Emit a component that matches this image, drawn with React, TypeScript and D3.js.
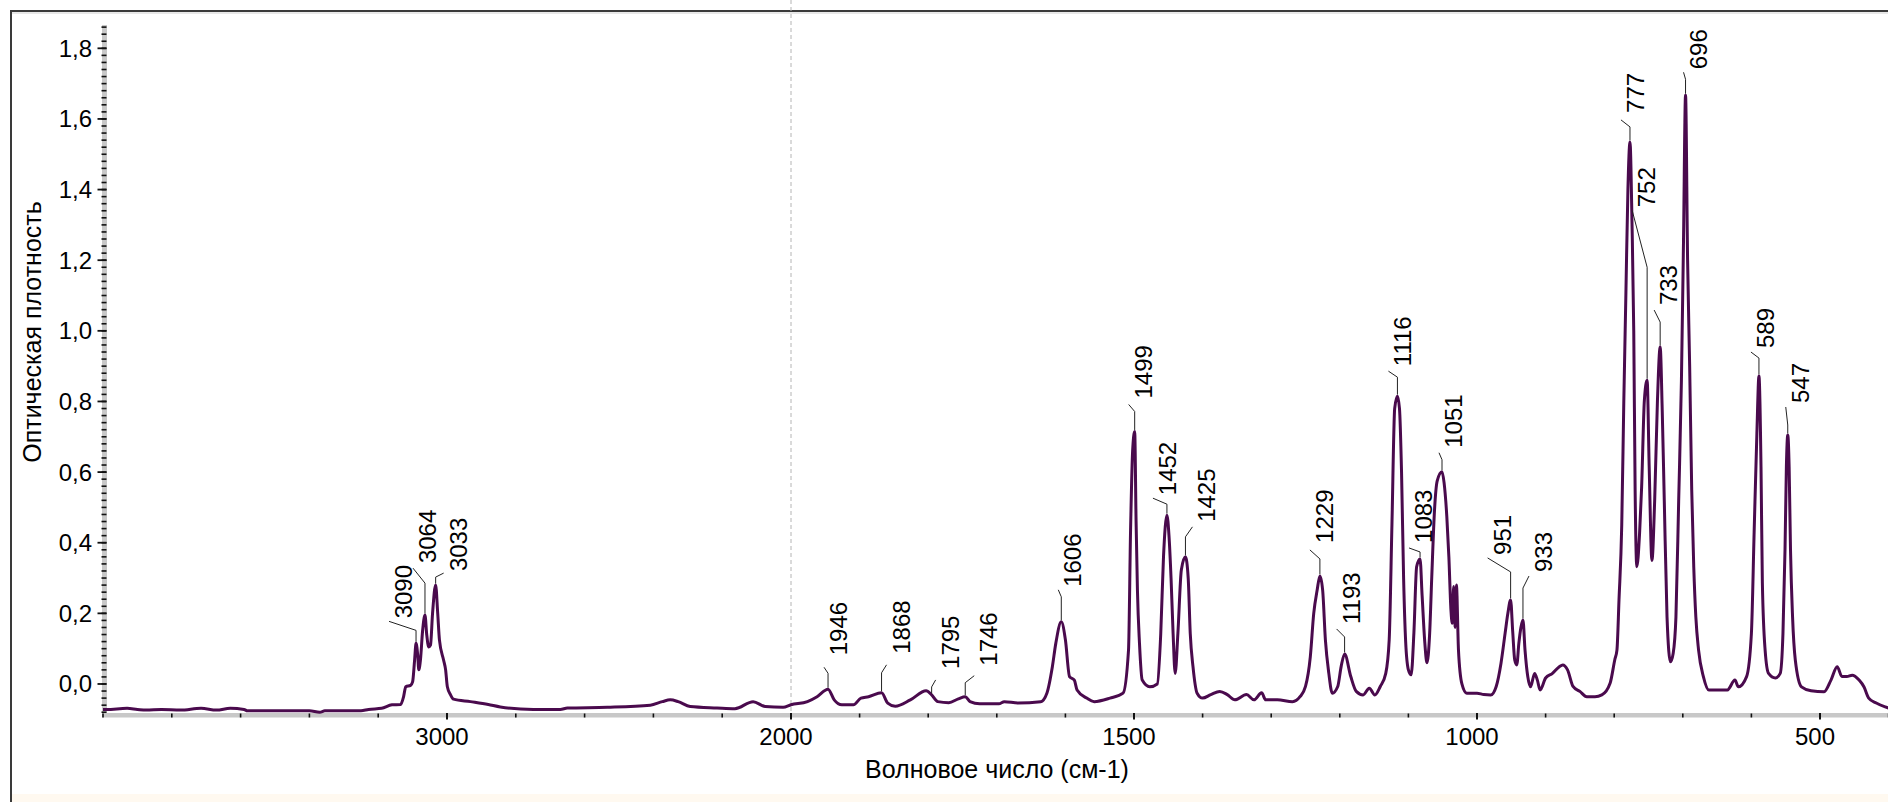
import React from 'react';
import * as d3 from 'd3';

// ---- data ----
const spectrumWn = [
  4000, 3990, 3930, 3900, 3875, 3830, 3775, 3715, 3670, 3630, 3590, 3580, 3460, 3400, 3370, 3355, 3250, 3228, 3190, 3160,
  3135, 3126, 3120, 3106, 3100, 3094, 3090, 3085, 3082, 3077, 3071, 3064, 3059, 3053, 3048, 3042, 3033, 3027, 3022, 3010,
  3004, 2999, 2990, 2981, 2932, 2880, 2845, 2749, 2671, 2650, 2534, 2409, 2374, 2351, 2328, 2293, 2215, 2163, 2110, 2075,
  2023, 2000, 1976, 1962, 1946, 1937, 1926, 1909, 1898, 1887, 1868, 1859, 1848, 1826, 1803, 1795, 1786, 1770, 1756, 1746,
  1739, 1725, 1697, 1689, 1669, 1636, 1627, 1619, 1614, 1606, 1600, 1594, 1587, 1583, 1569, 1558, 1535, 1516, 1508, 1505,
  1502, 1499, 1497, 1495, 1492, 1488, 1477, 1466, 1461, 1457, 1452, 1449, 1446, 1443, 1440, 1436, 1431, 1425, 1421, 1418,
  1414, 1408, 1400, 1388, 1375, 1364, 1353, 1336, 1325, 1314, 1308, 1291, 1269, 1258, 1250, 1243, 1238, 1233, 1229, 1225,
  1221, 1216, 1211, 1203, 1198, 1193, 1184, 1176, 1166, 1157, 1149, 1141, 1133, 1128, 1124, 1120, 1116, 1113, 1110, 1107,
  1104, 1100, 1096, 1092, 1088, 1083, 1080, 1076, 1073, 1069, 1066, 1062, 1058, 1051, 1048, 1044, 1041, 1038, 1036, 1034,
  1032, 1030, 1027, 1022, 1015, 1000, 990, 980, 972, 965, 959, 955, 951, 948, 945, 942, 939, 936, 933, 930,
  926, 922, 916, 912, 908, 900, 890, 880, 875, 868, 860, 850, 840, 828, 818, 806, 799, 796, 793, 789,
  786, 783, 780, 777, 774, 771.5, 769.5, 767, 763, 760, 756, 752, 749, 745, 741, 737, 733, 730, 727, 723,
  718, 714, 710, 706, 702, 699, 696, 693, 690, 687, 684, 681, 677, 670, 662, 650, 635, 624, 619, 607,
  600, 596, 592, 589, 586, 584, 580, 575, 565, 558, 554, 551, 549, 547, 545, 543, 540, 536, 527, 513,
  494, 484, 475, 468, 461, 453, 443, 436, 429, 418, 405, 400,
];
const spectrumAbs = [
  -0.072, -0.072, -0.069, -0.072, -0.074, -0.072, -0.074, -0.069, -0.074, -0.069, -0.072, -0.076, -0.076, -0.076, -0.08, -0.076, -0.076, -0.072, -0.069, -0.059,
  -0.058, -0.035, -0.008, -0.004, 0.006, 0.07, 0.115, 0.08, 0.04, 0.07, 0.15, 0.195, 0.14, 0.105, 0.11, 0.2, 0.28, 0.2, 0.125, 0.068,
  0.04, -0.008, -0.03, -0.043, -0.05, -0.058, -0.065, -0.072, -0.072, -0.068, -0.066, -0.06, -0.05, -0.045, -0.05, -0.064, -0.068, -0.07, -0.05, -0.064,
  -0.066, -0.059, -0.05, -0.036, -0.015, -0.045, -0.059, -0.059, -0.04, -0.036, -0.025, -0.054, -0.063, -0.045, -0.019, -0.031, -0.05, -0.053, -0.042, -0.036,
  -0.05, -0.056, -0.056, -0.05, -0.054, -0.05, -0.026, 0.049, 0.115, 0.176, 0.125, 0.021, 0.011, -0.017, -0.04, -0.05, -0.04, -0.026, 0.096, 0.436,
  0.66, 0.715, 0.464, 0.266, 0.115, 0.011, -0.008, 0.0, 0.143, 0.36, 0.478, 0.42, 0.3, 0.143, 0.03, 0.144, 0.323, 0.36, 0.3, 0.143,
  0.049, -0.026, -0.04, -0.03, -0.021, -0.03, -0.045, -0.03, -0.045, -0.025, -0.045, -0.045, -0.05, -0.036, -0.007, 0.077, 0.2, 0.266, 0.306, 0.266,
  0.125, 0.03, -0.026, -0.007, 0.05, 0.085, 0.021, -0.021, -0.031, -0.012, -0.031, -0.007, 0.03, 0.125, 0.45, 0.78, 0.815, 0.78, 0.6, 0.3,
  0.12, 0.04, 0.026, 0.144, 0.332, 0.354, 0.25, 0.115, 0.06, 0.144, 0.3, 0.49, 0.575, 0.601, 0.57, 0.474, 0.36, 0.21, 0.172, 0.276,
  0.16, 0.28, 0.096, 0.0, -0.026, -0.026, -0.03, -0.031, -0.007, 0.059, 0.144, 0.2, 0.238, 0.15, 0.068, 0.054, 0.115, 0.16, 0.181, 0.096,
  0.021, -0.008, 0.03, 0.011, -0.017, 0.017, 0.03, 0.049, 0.054, 0.04, -0.007, -0.021, -0.036, -0.036, -0.031, 0.002, 0.07, 0.096, 0.238, 0.45,
  0.8, 1.1, 1.4, 1.535, 1.3, 1.0, 0.55, 0.332, 0.427, 0.558, 0.804, 0.86, 0.615, 0.35, 0.52, 0.8, 0.954, 0.776, 0.52, 0.19,
  0.063, 0.087, 0.19, 0.52, 0.86, 1.25, 1.667, 1.2, 0.9, 0.55, 0.33, 0.19, 0.096, 0.021, -0.017, -0.017, -0.017, 0.011, -0.008, 0.021,
  0.143, 0.43, 0.71, 0.872, 0.615, 0.285, 0.096, 0.03, 0.017, 0.03, 0.143, 0.38, 0.615, 0.705, 0.615, 0.38, 0.19, 0.068, -0.008, -0.019,
  -0.022, 0.011, 0.049, 0.021, 0.021, 0.025, 0.011, -0.008, -0.04, -0.054, -0.065, -0.068,
];
const peakLabels = [3090, 3064, 3033, 1946, 1868, 1795, 1746, 1606, 1499, 1452, 1425, 1229, 1193, 1116, 1083, 1051, 951, 933, 777, 752, 733, 696, 589, 547];
const yTickValues = [0, 0.2, 0.4, 0.6, 0.8, 1.0, 1.2, 1.4, 1.6, 1.8];
const xTickLabelValues = [3000, 2000, 1500, 1000, 500];
const xMinorTicks = [4000, 3800, 3600, 3400, 3200, 3000, 2800, 2600, 2400, 2200, 2000, 1900, 1800, 1700, 1600, 1500, 1400, 1300, 1200, 1100, 1000, 900, 800, 700, 600, 500, 400];
const xTitle = 'Волновое число (см-1)';
const yTitle = 'Оптическая плотность';

// leader layout per label (px): [vertical rise, diagonal dx, diagonal dy, gap to text]
const leaderLayout: Record<number, number[]> = {
  3090: [13, -27, 9, 3], 3064: [32, -12, 15, 5], 3033: [8, 8, 4, 2],
  1946: [16, -4, 6, 12], 1868: [20, 5, 8, 11], 1795: [8, 4, 7, 11], 1746: [14, 9, 7, 10],
  1606: [25, -3, 7, 3], 1499: [20, -6, 7, 6], 1452: [11, -14, 6, 3], 1425: [20, 7, 10, 5],
  1229: [17, -10, 9, 7], 1193: [17, -8, 8, 5], 1116: [19, -9, 6, 5], 1083: [7, -11, 4, 5],
  1051: [12, -3, 7, 5], 951: [28, -23, 14, 3], 933: [32, 6, 12, 4], 777: [15, -9, 7, 7],
  752: [113, -15, 57, 3], 733: [25, -6, 12, 5], 696: [16, -2, 7, 3], 589: [18, -8, 6, 4], 547: [10, -2, 18, 4],
};

const W = 1888;
const H = 802;
const FONT = '"Liberation Sans", Arial, sans-serif';
const LINE = '#4a0a4d';

export default function App() {
  const x = d3.scaleLinear().domain([4000, 2000, 400]).range([103, 791, 1888.6]);
  const y = d3.scaleLinear().domain([-0.085, 1.866]).range([714, 25]);

  const pts: [number, number][] = spectrumWn.map((w, i) => [w, spectrumAbs[i]]);
  const line = d3
    .line<[number, number]>()
    .x((d) => x(d[0]))
    .y((d) => y(d[1]))
    .curve(d3.curveMonotoneX);
  const path = line(pts.slice().sort((a, b) => b[0] - a[0])) || '';

  const yMinor = d3.range(-4, 94).map((i) => i * 0.02);
  const fmt = (v: number) => v.toFixed(1).replace('.', ',');

  return (
    <svg
      width={W}
      height={H}
      style={{ position: 'absolute', left: 0, top: 0, background: '#ffffff', display: 'block' }}
      fontFamily={FONT}
    >
      <rect x={0} y={0} width={W} height={H} fill="#ffffff" />
      {/* bottom cream band */}
      <rect x={12} y={794} width={W - 12} height={H - 794} fill="#fff9f0" />
      {/* frame */}
      <line x1={11} y1={11} x2={W} y2={11} stroke="#3a3a3a" strokeWidth={2} />
      <line x1={11} y1={13} x2={W} y2={13} stroke="#d0d0d0" strokeWidth={1} />
      <line x1={11} y1={10} x2={11} y2={H} stroke="#3a3a3a" strokeWidth={2} />

      {/* dashed vertical at 2000 */}
      <line x1={x(2000)} y1={0} x2={x(2000)} y2={712} stroke="#b4b4b4" strokeWidth={1} strokeDasharray="4 3" />

      {/* y axis gray bar */}
      <rect x={102} y={25} width={5} height={692} fill="#c8c8c8" />
      {yMinor.map((v, i) => (
        <line key={'ym' + i} x1={101.5} x2={106.5} y1={y(v)} y2={y(v)} stroke="#111" strokeWidth={1.6} />
      ))}
      {yTickValues.map((v) => (
        <g key={'yt' + v}>
          <line x1={97.5} x2={106.5} y1={y(v)} y2={y(v)} stroke="#111" strokeWidth={1.8} />
          <text x={92} y={y(v)} textAnchor="end" dominantBaseline="central" fontSize={24} fill="#000">
            {fmt(v)}
          </text>
        </g>
      ))}

      {/* x axis gray bar */}
      <rect x={102} y={713} width={W - 102} height={4.5} fill="#c8c8c8" />
      {xMinorTicks.map((v) => (
        <line key={'xm' + v} x1={x(v)} x2={x(v)} y1={713.5} y2={717.5} stroke="#111" strokeWidth={1.6} />
      ))}
      {xTickLabelValues.map((v) => (
        <g key={'xt' + v}>
          <line x1={x(v)} x2={x(v)} y1={713} y2={719.5} stroke="#111" strokeWidth={2} />
          <text x={x(v) - 5} y={745} textAnchor="middle" fontSize={24} fill="#000">
            {String(v)}
          </text>
        </g>
      ))}

      {/* spectrum */}
      <path d={path} fill="none" stroke={LINE} strokeWidth={3} strokeLinejoin="round" />

      {/* peak labels */}
      {peakLabels.map((wn) => {
        const idx = spectrumWn.indexOf(wn);
        const px = x(wn);
        const py = y(spectrumAbs[idx]);
        const [v, dx, dy, gap] = leaderLayout[wn];
        const ey = py - v;
        const tx = px + dx;
        const ty = ey - dy;
        return (
          <g key={'pl' + wn}>
            <path d={`M${px},${py - 1.5} V${ey} L${tx},${ty}`} fill="none" stroke="#222" strokeWidth={1} />
            <text
              transform={`translate(${tx + 14.5},${ty - gap}) rotate(-90)`}
              textAnchor="start"
              dominantBaseline="central"
              fontSize={24}
              fill="#000"
            >
              {String(wn)}
            </text>
          </g>
        );
      })}

      {/* axis titles */}
      <text x={997} y={778} textAnchor="middle" fontSize={25} fill="#000">
        {xTitle}
      </text>
      <text
        transform="translate(32,332) rotate(-90)"
        textAnchor="middle"
        dominantBaseline="central"
        fontSize={25}
        fill="#000"
      >
        {yTitle}
      </text>
    </svg>
  );
}
